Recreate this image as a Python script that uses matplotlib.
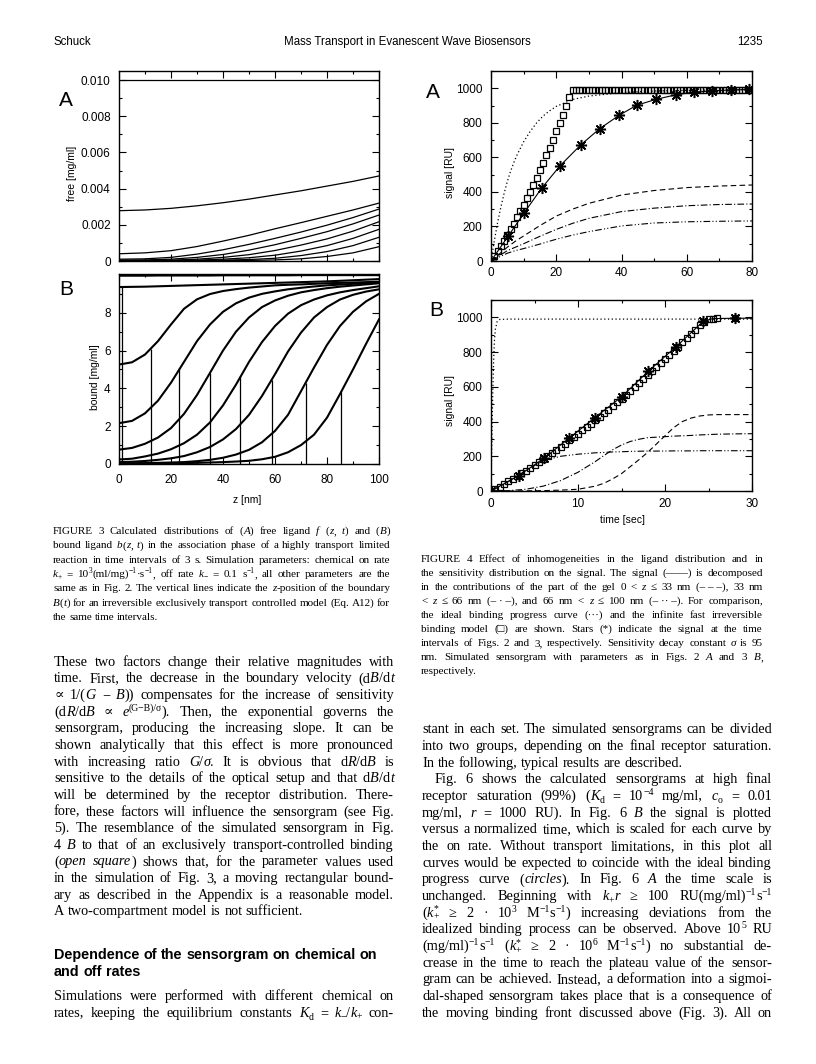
import matplotlib
matplotlib.use('Agg')
import matplotlib.pyplot as plt
import numpy as np
from matplotlib.font_manager import FontProperties
from matplotlib.ticker import MultipleLocator, FuncFormatter

# ---------------- data ----------------
# Fig 3A: free ligand f(z,t) in units of 1e-3 mg/ml
z_free = [0, 10, 20, 30, 40, 50, 60, 70, 80, 90, 100]
free_curves = [
    [10.0, 10.0, 10.0, 10.0, 10.0, 10.0, 10.0, 10.0, 10.0, 10.0, 10.0],
    [2.78, 2.82, 2.91, 3.05, 3.22, 3.42, 3.65, 3.88, 4.14, 4.40, 4.70],
    [0.40, 0.45, 0.57, 0.80, 1.10, 1.42, 1.78, 2.12, 2.47, 2.82, 3.20],
    [0.10, 0.12, 0.20, 0.38, 0.62, 0.92, 1.25, 1.60, 1.98, 2.40, 2.87],
    [0.05, 0.06, 0.10, 0.20, 0.36, 0.60, 0.90, 1.25, 1.62, 2.05, 2.54],
    [0.03, 0.03, 0.05, 0.10, 0.20, 0.35, 0.58, 0.88, 1.22, 1.65, 2.17],
    [0.02, 0.02, 0.02, 0.05, 0.10, 0.18, 0.32, 0.55, 0.85, 1.25, 1.75],
    [0.01, 0.01, 0.01, 0.02, 0.05, 0.08, 0.15, 0.30, 0.52, 0.85, 1.31],
    [0.00, 0.00, 0.00, 0.01, 0.02, 0.03, 0.06, 0.12, 0.25, 0.45, 0.79],
]

# Fig 3B: bound ligand b(z,t) in mg/ml
z_bound = [0, 5, 10, 15, 20, 25, 30, 35, 40, 45, 50, 55, 60, 65, 70, 75, 80, 85, 90, 95, 100]
bound_curves = [
    [9.96, 9.96, 9.96, 9.97, 9.97, 9.97, 9.97, 9.97, 9.98, 9.98, 9.98, 9.98, 9.98, 9.98, 9.99, 9.99, 9.99, 9.99, 9.99, 9.99, 9.99],
    [9.36, 9.37, 9.38, 9.40, 9.42, 9.44, 9.46, 9.48, 9.50, 9.52, 9.54, 9.56, 9.58, 9.60, 9.62, 9.64, 9.66, 9.69, 9.72, 9.75, 9.78],
    [5.26, 5.38, 5.79, 6.50, 7.38, 8.21, 8.71, 8.99, 9.15, 9.25, 9.33, 9.39, 9.45, 9.48, 9.50, 9.53, 9.56, 9.58, 9.60, 9.62, 9.64],
    [2.16, 2.28, 2.68, 3.35, 4.30, 5.40, 6.50, 7.38, 8.05, 8.50, 8.80, 9.00, 9.13, 9.24, 9.32, 9.39, 9.45, 9.49, 9.53, 9.56, 9.60],
    [0.76, 0.85, 1.07, 1.40, 1.90, 2.65, 3.65, 4.82, 6.00, 7.00, 7.75, 8.30, 8.65, 8.90, 9.08, 9.20, 9.30, 9.38, 9.44, 9.50, 9.56],
    [0.24, 0.28, 0.40, 0.55, 0.78, 1.10, 1.55, 2.20, 3.10, 4.20, 5.40, 6.45, 7.30, 7.95, 8.40, 8.70, 8.92, 9.08, 9.20, 9.30, 9.40],
    [0.10, 0.12, 0.16, 0.22, 0.30, 0.42, 0.62, 0.90, 1.30, 1.85, 2.60, 3.60, 4.75, 5.95, 6.95, 7.75, 8.30, 8.70, 8.95, 9.12, 9.24],
    [0.04, 0.04, 0.05, 0.06, 0.08, 0.10, 0.15, 0.22, 0.33, 0.50, 0.75, 1.15, 1.75, 2.60, 3.85, 5.10, 6.30, 7.30, 8.05, 8.60, 9.00],
    [0.02, 0.02, 0.02, 0.03, 0.04, 0.05, 0.06, 0.08, 0.10, 0.13, 0.17, 0.25, 0.38, 0.62, 1.00, 1.55, 2.45, 3.70, 5.00, 6.35, 7.65],
]
boundary_z = [1.3, 12.3, 23.2, 34.9, 46.7, 58.7, 71.8, 85.5]
boundary_h = [9.36, 6.10, 5.06, 4.81, 4.67, 4.46, 4.28, 3.79]

# Fig 4A: signal [RU] vs time [sec]
ideal_a_t = [0, 1, 2, 3, 4, 5, 6, 7, 8, 10, 12, 14, 16, 18, 20, 25, 30, 40, 50, 60, 70, 80]
ideal_a = [0, 115, 220, 310, 390, 460, 520, 570, 615, 690, 750, 800, 840, 870, 895, 935, 955, 975, 984, 988, 990, 992]
square_a_t = list(range(1, 81))
square_a = [28, 57, 87, 118, 150, 183, 217, 252, 288, 325, 363, 402, 442, 483, 525, 568,
            612, 657, 703, 750, 798, 848, 898, 948] + [992] * 56
star_a_t = [0, 5.3, 10.2, 15.5, 21.2, 27.5, 33.3, 39.3, 44.7, 50.6, 56.6, 62.1, 67.8, 73.5, 79.0]
star_a = [0, 145, 280, 421, 552, 672, 766, 844, 902, 936, 962, 977, 985, 990, 993]
comp_a_t = [0, 2.5, 5, 7.5, 10, 15, 20, 25, 30, 40, 50, 60, 70, 80]
gel_low_a = [0, 40, 80, 115, 145, 205, 260, 300, 334, 382, 408, 425, 434, 440]
gel_mid_a = [0, 30, 60, 80, 100, 143, 183, 218, 247, 286, 306, 320, 327, 330]
gel_high_a = [0, 23, 45, 60, 72, 98, 126, 150, 170, 203, 220, 227, 230, 232]

# Fig 4B
ideal_b_t = [0, 0.1, 0.2, 0.3, 0.4, 0.5, 0.7, 1.0, 2.0, 30]
ideal_b = [0, 300, 560, 750, 870, 930, 975, 988, 990, 990]
square_b_t = [0, 0.5, 1, 1.5, 2, 2.5, 3, 3.5, 4, 4.5, 5, 5.5, 6, 6.5, 7, 7.5, 8, 8.5, 9, 9.5,
              10, 10.5, 11, 11.5, 12, 12.5, 13, 13.5, 14, 14.5, 15, 15.5, 16, 16.5, 17, 17.5,
              18, 18.5, 19, 19.5, 20, 20.5, 21, 21.5, 22, 22.5, 23, 23.5, 24, 24.5, 25, 25.5, 26, 28]
square_b = [0, 12, 25, 40, 55, 70, 86, 102, 118, 134, 150, 167, 184, 201, 219, 237, 255, 273, 292, 311,
            330, 349, 368, 388, 408, 428, 448, 469, 490, 511, 532, 554, 576, 598, 620, 643,
            666, 689, 712, 735, 759, 783, 807, 831, 856, 880, 905, 930, 955, 975, 988, 993, 995, 995]
star_b_t = [0, 3.2, 6.1, 9.0, 11.9, 15.0, 18.1, 21.3, 24.4, 28.0]
star_b = [0, 89, 189, 305, 421, 542, 691, 832, 977, 995]
signal_b_t = [0, 3.2, 6.1, 9.0, 11.9, 15.0, 18.1, 21.3, 24.4, 25.5, 28.0, 30.0]
signal_b = [0, 89, 189, 305, 421, 542, 691, 832, 977, 993, 995, 995]
comp_b_t = [0, 2, 4, 6, 8, 10, 12, 13, 14, 15, 16, 17, 18, 19, 20, 21, 22, 23, 24, 25, 26, 28, 30]
gel_low_b = [0, 0, 1, 2, 5, 10, 28, 45, 70, 100, 140, 180, 222, 270, 318, 365, 400, 420, 432, 438, 440, 440, 440]
gel_mid_b = [0, 2, 10, 28, 60, 108, 170, 205, 238, 265, 285, 298, 307, 310, 313, 316, 318, 320, 323, 325, 327, 329, 330]
gel_high_b = [0, 55, 118, 175, 200, 212, 220, 222, 225, 226, 228, 229, 230, 230, 230, 231, 231, 231, 232, 232, 232, 232, 232]

# ---------------- page text ----------------
cap3_lines = [
    "FIGURE 3 Calculated distributions of (`A`) free ligand `f` (`z`, `t`) and (`B`)",
    "bound ligand `b`(`z`, `t`) in the association phase of a highly transport limited",
    "reaction in time intervals of 3 s. Simulation parameters: chemical on rate",
    "`k`_{+} = 10^{3}(ml/mg)^{−1}·s^{−1}, off rate `k`_{−} = 0.1 s^{−1}, all other parameters are the",
    "same as in Fig. 2. The vertical lines indicate the `z`-position of the boundary",
    "`B`(`t`) for an irreversible exclusively transport controlled model (Eq. A12) for",
    "the same time intervals.",
]
cap4_lines = [
    "FIGURE 4 Effect of inhomogeneities in the ligand distribution and in",
    "the sensitivity distribution on the signal. The signal (——) is decomposed",
    "in the contributions of the part of the gel 0 < `z` ≤ 33 nm (–~–~–), 33 nm",
    "< `z` ≤ 66 nm (–~·~–), and 66 nm < `z` ≤ 100 nm (–~··~–). For comparison,",
    "the ideal binding progress curve (···) and the infinite fast irreversible",
    "binding model (□) are shown. Stars (*) indicate the signal at the time",
    "intervals of Figs. 2 and 3, respectively. Sensitivity decay constant `σ` is 95",
    "nm. Simulated sensorgram with parameters as in Figs. 2 `A` and 3 `B`,",
    "respectively.",
]
left_lines = [
    "These two factors change their relative magnitudes with",
    "time. First, the decrease in the boundary velocity (d`B`/d`t`",
    "∝ 1/(`G` − `B`)) compensates for the increase of sensitivity",
    "(d`R`/d`B` ∝ `e`^{(G−B)/σ}). Then, the exponential governs the",
    "sensorgram, producing the increasing slope. It can be",
    "shown analytically that this effect is more pronounced",
    "with increasing ratio `G`/`σ`. It is obvious that d`R`/d`B` is",
    "sensitive to the details of the optical setup and that d`B`/d`t`",
    "will be determined by the receptor distribution. There-",
    "fore, these factors will influence the sensorgram (see Fig.",
    "5). The resemblance of the simulated sensorgram in Fig.",
    "4 `B` to that of an exclusively transport-controlled binding",
    "(`open square`) shows that, for the parameter values used",
    "in the simulation of Fig. 3, a moving rectangular bound-",
    "ary as described in the Appendix is a reasonable model.",
    "A two-compartment model is not sufficient.",
]
heading_lines = ["Dependence of the sensorgram on chemical on", "and off rates"]
left_tail_lines = [
    "Simulations were performed with different chemical on",
    "rates, keeping the equilibrium constants `K`_{d} = `k`_{−}/`k`_{+} con-",
]
right_lines = [
    "stant in each set. The simulated sensorgrams can be divided",
    "into two groups, depending on the final receptor saturation.",
    "In the following, typical results are described.",
    "Fig. 6 shows the calculated sensorgrams at high final",
    "receptor saturation (99%) (`K`_{d} = 10^{−4} mg/ml, `c`_{o} = 0.01",
    "mg/ml, `r` = 1000 RU). In Fig. 6 `B` the signal is plotted",
    "versus a normalized time, which is scaled for each curve by",
    "the on rate. Without transport limitations, in this plot all",
    "curves would be expected to coincide with the ideal binding",
    "progress curve (`circles`). In Fig. 6 `A` the time scale is",
    "unchanged. Beginning with `k`_{+}`r` ≥ 100 RU(mg/ml)^{−1}s^{−1}",
    "(`k`^{*}_{+} ≥ 2 · 10^{3} M^{−1}s^{−1}) increasing deviations from the",
    "idealized binding process can be observed. Above 10^{5} RU",
    "(mg/ml)^{−1}s^{−1} (`k`^{*}_{+} ≥ 2 · 10^{6} M^{−1}s^{−1}) no substantial de-",
    "crease in the time to reach the plateau value of the sensor-",
    "gram can be achieved. Instead, a deformation into a sigmoi-",
    "dal-shaped sensorgram takes place that is a consequence of",
    "the moving binding front discussed above (Fig. 3). All on",
]

# ---------------- figure setup ----------------
W, H = 816, 1064
SANS = ['Liberation Sans', 'DejaVu Sans']
SERIF = ['Liberation Serif', 'DejaVu Serif']
plt.rcParams['font.family'] = SANS
plt.rcParams['axes.linewidth'] = 1.0

fig = plt.figure(figsize=(W / 100, H / 100), dpi=100)
fig.patch.set_facecolor('white')
renderer = fig.canvas.get_renderer()


def axes_px(l, t, r, b):
    return fig.add_axes([l / W, 1 - b / H, (r - l) / W, (b - t) / H])


def style_axes(ax, xlim, ylim, xmaj, xmin, ymin):
    ax.set_xlim(*xlim)
    ax.set_ylim(*ylim)
    ax.xaxis.set_major_locator(MultipleLocator(xmaj))
    ax.xaxis.set_minor_locator(MultipleLocator(xmin))
    ax.yaxis.set_minor_locator(MultipleLocator(ymin))
    ax.tick_params(which='both', direction='in', top=True, right=True, width=0.8,
                   labelsize=8.5, pad=6)
    ax.tick_params(which='major', length=5)
    ax.tick_params(which='minor', length=2.5)


def put(x, y, s, size, family=SANS, **kw):
    fig.text(x / W, 1 - y / H, s, fontsize=size, family=family, **kw)


def measure(s, size, italic=False, weight='normal', family=SERIF):
    fp = FontProperties(family=family, style='italic' if italic else 'normal',
                        weight=weight, size=size)
    return renderer.get_text_width_height_descent(s, fp, ismath=False)[0]


def parse(line):
    # ` toggles italic, ^{..} superscript, _{..} subscript, ~ is a non-breaking space
    words, runs, buf, italic, i = [], [], '', False, 0
    while i < len(line):
        c = line[i]
        if c == '`':
            if buf:
                runs.append((buf, italic, 0))
                buf = ''
            italic = not italic
        elif c in '^_' and i + 1 < len(line) and line[i + 1] == '{':
            if buf:
                runs.append((buf, italic, 0))
                buf = ''
            j = line.index('}', i)
            runs.append((line[i + 2:j], italic, 1 if c == '^' else -1))
            i = j
        elif c == ' ':
            if buf:
                runs.append((buf, italic, 0))
                buf = ''
            if runs:
                words.append(runs)
                runs = []
        else:
            buf += '\u00a0' if c == '~' else c
        i += 1
    if buf:
        runs.append((buf, italic, 0))
    if runs:
        words.append(runs)
    return words


def layout_word(runs, size, weight, family):
    out, x, prev = [], 0.0, None
    for text, it, sh in runs:
        rs = size * 0.68 if sh else size
        w = measure(text, rs, it, weight, family)
        if sh == -1 and prev is not None and prev[0] == 1:
            start = prev[1]
            x = max(x, start + w)
        else:
            start = x
            x += w
        out.append((text, it, sh, rs, start))
        prev = (sh, start)
    return out, x


def set_line(line, x0, x1, y, size, justify=True, family=SERIF, weight='normal'):
    words = [layout_word(w, size, weight, family) for w in parse(line)]
    total = sum(w for _, w in words)
    space = measure('x x', size, family=family, weight=weight) - measure('xx', size, family=family, weight=weight)
    if justify and len(words) > 1:
        gap = max((x1 - x0 - total) / (len(words) - 1), 0.55 * space)
    else:
        gap = space
    x = x0
    size_px = size * 100 / 72
    for runs, width in words:
        for text, it, sh, rs, start in runs:
            dy = -0.36 * size_px if sh == 1 else (0.2 * size_px if sh == -1 else 0)
            put(x + start, y + dy, text, rs, family=family, style='italic' if it else 'normal',
                weight=weight, ha='left', va='baseline')
        x += width + gap


# ---------------- Fig 3A ----------------
ax = axes_px(119, 71, 379, 261)
for vals in free_curves:
    ax.plot(z_free, np.array(vals) * 1e-3, color='black', lw=0.9)
style_axes(ax, (0, 100), (0, 0.0105), 20, 10, 0.001)
ax.set_yticks([0, 0.002, 0.004, 0.006, 0.008, 0.010])
ax.yaxis.set_major_formatter(FuncFormatter(lambda v, p: '0' if abs(v) < 1e-12 else f'{v:.3f}'))
ax.tick_params(labelbottom=False)

# ---------------- Fig 3B ----------------
ax = axes_px(119, 274, 379, 464)
for vals in bound_curves:
    ax.plot(z_bound, vals, color='black', lw=1.5)
ax.vlines(boundary_z, 0, boundary_h, color='black', lw=0.9)
style_axes(ax, (0, 100), (0, 10.05), 20, 10, 1)
ax.set_yticks([0, 2, 4, 6, 8])
ax.tick_params(axis='x', pad=7)

# ---------------- Fig 4A ----------------
ax = axes_px(491, 71, 752, 261)
ax.plot(ideal_a_t, ideal_a, color='black', lw=0.9, ls=(0, (1, 2)))
ax.plot(comp_a_t, gel_low_a, color='black', lw=0.8, ls=(0, (5, 3)))
ax.plot(comp_a_t, gel_mid_a, color='black', lw=0.8, ls=(0, (6, 2, 1, 2)))
ax.plot(comp_a_t, gel_high_a, color='black', lw=0.8, ls=(0, (6, 2, 1, 2, 1, 2)))
ax.plot(star_a_t, star_a, color='black', lw=0.8)
ax.plot(square_a_t, square_a, ls='none', marker='s', ms=5, mfc='none', mec='black', mew=0.9)
ax.plot(star_a_t, star_a, ls='none', marker=(8, 2, 0), ms=8, mec='black', mew=1.1)
style_axes(ax, (0, 80), (0, 1100), 20, 10, 100)
ax.set_yticks([0, 200, 400, 600, 800, 1000])
ax.tick_params(axis='x', pad=4)

# ---------------- Fig 4B ----------------
ax = axes_px(491, 300, 752, 491)
ax.plot(ideal_b_t, ideal_b, color='black', lw=0.9, ls=(0, (1, 2)))
ax.plot(comp_b_t, gel_low_b, color='black', lw=0.8, ls=(0, (5, 3)))
ax.plot(comp_b_t, gel_mid_b, color='black', lw=0.8, ls=(0, (6, 2, 1, 2)))
ax.plot(comp_b_t, gel_high_b, color='black', lw=0.8, ls=(0, (6, 2, 1, 2, 1, 2)))
ax.plot(signal_b_t, signal_b, color='black', lw=0.8)
ax.plot(square_b_t, square_b, ls='none', marker='s', ms=5, mfc='none', mec='black', mew=0.9)
ax.plot(star_b_t, star_b, ls='none', marker=(8, 2, 0), ms=8, mec='black', mew=1.1)
style_axes(ax, (0, 30), (0, 1100), 10, 5, 100)
ax.set_yticks([0, 200, 400, 600, 800, 1000])
ax.tick_params(axis='x', pad=5)

# ---------------- axis labels and panel letters ----------------
put(72, 173, 'free [mg/ml]', 7.5, rotation=90, ha='center', va='center')
put(95, 377, 'bound [mg/ml]', 7.5, rotation=90, ha='center', va='center')
put(247, 500, 'z [nm]', 7.5, ha='center', va='center')
put(450, 173, 'signal [RU]', 7.5, rotation=90, ha='center', va='center')
put(450, 400, 'signal [RU]', 7.5, rotation=90, ha='center', va='center')
put(623, 520, 'time [sec]', 7.5, ha='center', va='center')
for lx, ly, letter in [(66, 101, 'A'), (66, 290, 'B'), (433, 92, 'A'), (436, 310, 'B')]:
    put(lx, ly, letter, 15, ha='center', va='center')

# ---------------- running head ----------------
put(53, 45, 'Schuck', 8.3, ha='left', va='baseline')
put(407, 45, 'Mass Transport in Evanescent Wave Biosensors', 8.3, ha='center', va='baseline')
put(763, 45, '1235', 8.3, ha='right', va='baseline')

# ---------------- captions ----------------
for i, line in enumerate(cap3_lines):
    set_line(line, 53, 390, 534 + 14.3 * i, 8.0, justify=i < len(cap3_lines) - 1)
for i, line in enumerate(cap4_lines):
    set_line(line, 421, 763, 562 + 14.05 * i, 8.0, justify=i < len(cap4_lines) - 1)

# ---------------- body text ----------------
for i, line in enumerate(left_lines):
    set_line(line, 54, 394, 665.7 + 16.65 * i, 10.3, justify=i < len(left_lines) - 1)
for i, line in enumerate(heading_lines):
    set_line(line, 54, 394, 959 + 16.7 * i, 10.4, justify=False, family=SANS, weight='bold')
for i, line in enumerate(left_tail_lines):
    set_line(line, 54, 394, 1000 + 16.7 * i, 10.3)
for i, line in enumerate(right_lines):
    x0 = 435 if i == 3 else 422
    set_line(line, x0, 772, 733.3 + 16.67 * i, 10.3, justify=i != 2)

fig.savefig('out.png', dpi=100, facecolor='white')
